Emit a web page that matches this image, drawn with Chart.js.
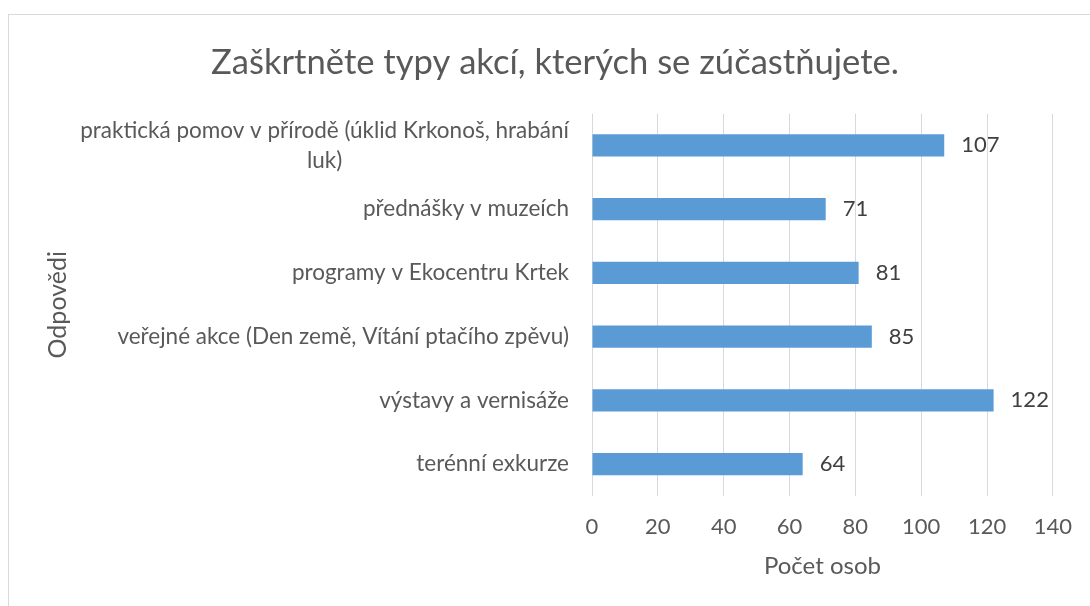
<!DOCTYPE html>
<html><head><meta charset="utf-8">
<script src="https://cdn.jsdelivr.net/npm/chart.js@4"></script>
<style>
html,body{margin:0;padding:0;background:#fff;}
#wrap{position:relative;width:1090px;height:606px;overflow:hidden;}
#frame{position:absolute;left:8px;top:14px;width:1200px;height:700px;border:1px solid #d9d9d9;box-sizing:border-box;}
canvas{position:absolute;left:0;top:0;}
</style></head><body>
<div id="wrap"><div id="frame"></div><canvas id="c" width="1090" height="606"></canvas></div>
<script>
const chartTitle = "Zaškrtněte typy akcí, kterých se zúčastňujete.";
const categories = [
  ["praktická pomov v přírodě (úklid Krkonoš, hrabání", "luk)"],
  "přednášky v muzeích",
  "programy v Ekocentru Krtek",
  "veřejné akce (Den země, Vítání ptačího zpěvu)",
  "výstavy a vernisáže",
  "terénní exkurze"
];
const values = [107, 71, 81, 85, 122, 64];
const xMin = 0, xMax = 140, xStep = 20;
const xAxisTitle = "Počet osob";
const yAxisTitle = "Odpovědi";

const FONT = "Lato";
const TEXT = "#595959";

const yLabelPlugin = {
  id: 'yLabels',
  afterDraw(chart) {
    const ctx = chart.ctx, ys = chart.scales.y;
    ctx.save();
    ctx.font = "22.5px " + FONT;
    ctx.fillStyle = TEXT;
    ctx.textAlign = 'center';
    ctx.textBaseline = 'middle';
    const right = chart.chartArea.left - 23;
    categories.forEach((lab, i) => {
      const lines = Array.isArray(lab) ? lab : [lab];
      const w = Math.max(...lines.map(l => ctx.measureText(l).width));
      const cx = right - w / 2;
      const cy = ys.getPixelForValue(i);
      const lh = 30;
      lines.forEach((l, j) => ctx.fillText(l, cx, cy + (j - (lines.length - 1) / 2) * lh));
    });
    ctx.restore();
  }
};

const dataLabelPlugin = {
  id: 'dataLabels',
  afterDatasetsDraw(chart) {
    const ctx = chart.ctx;
    const meta = chart.getDatasetMeta(0);
    ctx.save();
    ctx.font = "22px " + FONT;
    ctx.fillStyle = "#404040";
    ctx.textAlign = 'left';
    ctx.textBaseline = 'middle';
    meta.data.forEach((bar, i) => {
      ctx.fillText(String(values[i]), bar.x + 17, bar.y);
    });
    ctx.restore();
  }
};

new Chart(document.getElementById('c'), {
  type: 'bar',
  data: {
    labels: categories,
    datasets: [{
      data: values,
      backgroundColor: '#5B9BD5',
      borderWidth: 0,
      barPercentage: 0.35,
      categoryPercentage: 1
    }]
  },
  options: {
    indexAxis: 'y',
    responsive: false,
    animation: false,
    layout: { padding: { left: 55, right: 35, top: 0, bottom: 0 } },
    plugins: {
      legend: { display: false },
      tooltip: { enabled: false },
      title: {
        display: true,
        text: chartTitle,
        color: TEXT,
        font: { family: FONT, size: 34.6, weight: 'normal' },
        padding: { top: 42, bottom: 30 }
      }
    },
    scales: {
      x: {
        position: 'bottom',
        min: xMin, max: xMax,
        ticks: { stepSize: xStep, color: TEXT, font: { family: FONT, size: 22 }, padding: 18 },
        grid: { color: '#d9d9d9', drawTicks: false, lineWidth: 1 },
        border: { display: false },
        title: { display: true, text: xAxisTitle, color: TEXT, font: { family: FONT, size: 24 }, padding: { top: 0, bottom: 25 } },
        afterFit(s) { s.height = 110; }
      },
      y: {
        ticks: { display: false },
        grid: { display: false },
        border: { display: false },
        title: { display: true, text: yAxisTitle, color: TEXT, font: { family: FONT, size: 25 }, padding: { top: -12, bottom: 0 } },
        afterFit(s) { s.width = 537; }
      }
    }
  },
  plugins: [yLabelPlugin, dataLabelPlugin]
});
</script>
</body></html>
